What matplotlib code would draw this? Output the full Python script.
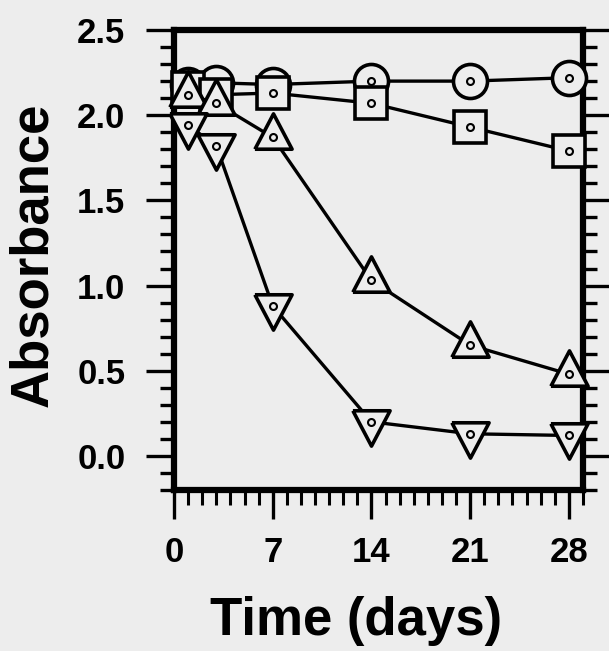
import numpy as np
import matplotlib
matplotlib.use('Agg')
import matplotlib.pyplot as plt
from matplotlib.ticker import MultipleLocator

# values
days = [1, 3, 7, 14, 21, 28]
circles = [2.18, 2.19, 2.18, 2.20, 2.20, 2.22]
squares = [2.16, 2.12, 2.13, 2.07, 1.93, 1.79]
tri_up = [2.12, 2.07, 1.87, 1.03, 0.65, 0.48]
tri_down = [1.94, 1.82, 0.88, 0.20, 0.13, 0.12]

x_ticks = [0, 7, 14, 21, 28]
y_ticks = [0.0, 0.5, 1.0, 1.5, 2.0, 2.5]

bg = '#ededed'
font = 'Liberation Sans'

# triangles centred on their centroid, like the original plot
up_marker = [(-1, -0.63), (1, -0.63), (0, 1.27), (-1, -0.63)]
down_marker = [(-1, 0.63), (1, 0.63), (0, -1.27), (-1, 0.63)]

fig = plt.figure(figsize=(6.09, 6.51), dpi=100, facecolor=bg)
ax = fig.add_axes([174 / 609, 1 - 490 / 651, 409 / 609, 460 / 651])
ax.set_facecolor(bg)

series = [
	(circles, 'o', 24.5),
	(squares, 's', 23),
	(tri_up, up_marker, 34),
	(tri_down, down_marker, 34),
]
for vals, mk, ms in series:
	ax.plot(days, vals, color='black', lw=2.4, marker=mk, ms=ms,
		mfc=bg, mec='black', mew=2.6, zorder=3, clip_on=False)
	ax.plot(days, vals, ls='none', marker='o', ms=5, mfc=bg,
		mec='black', mew=1.5, zorder=3, clip_on=False)

ax.set_xlim(0, 29)
ax.set_ylim(-0.2, 2.5)
ax.set_xticks(x_ticks)
ax.set_yticks(y_ticks)
ax.xaxis.set_minor_locator(MultipleLocator(1))
ax.yaxis.set_minor_locator(MultipleLocator(0.1))
ax.set_yticklabels(['%.1f' % v for v in y_ticks])

for side in ['left', 'right', 'top', 'bottom']:
	ax.spines[side].set_linewidth(4.5)

ax.tick_params(axis='y', which='major', direction='out', length=20, width=2.4,
	pad=15, left=True, right=True, labelsize=25)
ax.tick_params(axis='y', which='minor', direction='out', length=10, width=2.4,
	left=True, right=True)
ax.tick_params(axis='x', which='major', direction='out', length=21, width=2.4,
	pad=12, labelsize=25, top=False)
ax.tick_params(axis='x', which='minor', direction='out', length=11, width=2.2,
	top=False)
for lab in ax.get_xticklabels() + ax.get_yticklabels():
	lab.set_fontfamily(font)
	lab.set_fontweight('bold')

fig.text(33 / 609, 1 - 255 / 651, 'Absorbance', rotation=90, ha='center',
	va='center', fontsize=38, fontweight='bold', fontfamily=font)
fig.text(356 / 609, 1 - 621 / 651, 'Time (days)', ha='center', va='center',
	fontsize=38, fontweight='bold', fontfamily=font)

fig.savefig('out.png', dpi=100, facecolor=bg)
